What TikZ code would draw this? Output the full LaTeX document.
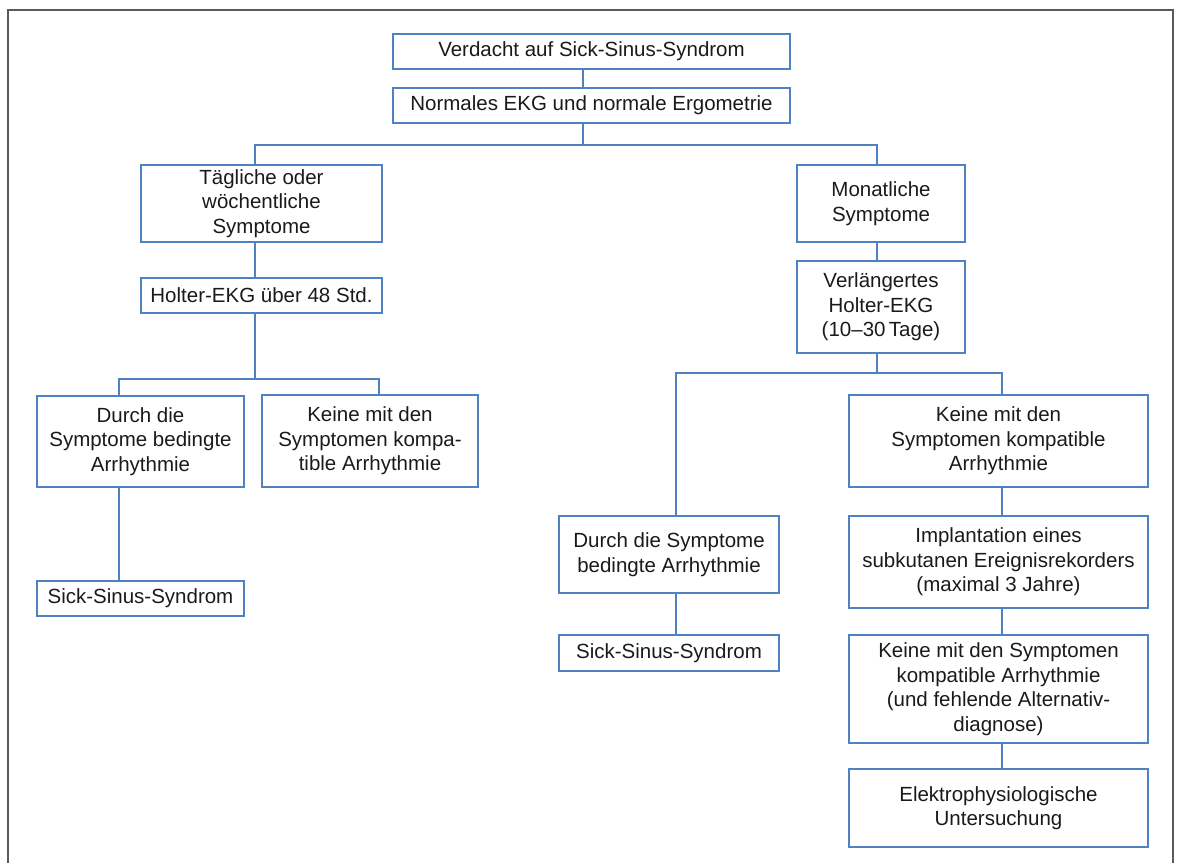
\documentclass[tikz,border=0pt]{standalone}
\usepackage{fontspec}
\setmainfont{Liberation Sans}
\definecolor{boxblue}{HTML}{4F82C3}
\definecolor{framegray}{HTML}{5A5A5A}
\definecolor{txt}{HTML}{1A1A1A}
\tikzset{
  box/.style={draw=boxblue, line width=1.5pt, inner sep=0pt, align=center,
    font=\fontsize{20.5}{24.5}\selectfont, text=txt},
  link/.style={draw=boxblue, line width=1.5pt},
}
\begin{document}
\begin{tikzpicture}[x=1pt,y=-1pt]
\useasboundingbox (0,0) rectangle (1179,863);
\draw[framegray, line width=1.2pt] (8,863) -- (8,10) -- (1173,10) -- (1173,863);

\node[box, minimum width=397pt, minimum height=35pt] (verd) at (591.5,51.5) {Verdacht auf Sick-Sinus-Syndrom};
\node[box, minimum width=397pt, minimum height=35pt] (norm) at (591.5,105.5) {Normales EKG und normale Ergometrie};
\node[box, minimum width=241pt, minimum height=77pt] (tagl) at (261.5,203.5) {Tägliche oder\\wöchentliche\\Symptome};
\node[box, minimum width=168pt, minimum height=77pt] (mon) at (881,203.5) {Monatliche\\Symptome};
\node[box, minimum width=241pt, minimum height=35pt] (holt) at (261.5,295.5) {Holter-EKG über 48 Std.};
\node[box, minimum width=168pt, minimum height=92pt] (verl) at (881,307) {Verlängertes\\Holter-EKG\\(10–30\,Tage)};
\node[box, minimum width=207pt, minimum height=91pt] (durchL) at (140.5,441.5) {Durch die\\Symptome bedingte\\Arrhythmie};
\node[box, minimum width=216pt, minimum height=92pt] (keineL) at (370,441) {Keine mit den\\Symptomen kompa-\\tible Arrhythmie};
\node[box, minimum width=207pt, minimum height=35pt] (sssL) at (140.5,598.5) {Sick-Sinus-Syndrom};
\node[box, minimum width=220pt, minimum height=77pt] (durchR) at (669,554.5) {Durch die Symptome\\bedingte Arrhythmie};
\node[box, minimum width=299pt, minimum height=92pt] (keineR) at (998.5,441) {Keine mit den\\Symptomen kompatible\\Arrhythmie};
\node[box, minimum width=299pt, minimum height=92pt] (impl) at (998.5,562) {Implantation eines\\subkutanen Ereignisrekorders\\(maximal 3 Jahre)};
\node[box, minimum width=220pt, minimum height=36pt] (sssR) at (669,653) {Sick-Sinus-Syndrom};
\node[box, minimum width=299pt, minimum height=108pt] (keineB) at (998.5,689) {Keine mit den Symptomen\\kompatible Arrhythmie\\(und fehlende Alternativ-\\diagnose)};
\node[box, minimum width=299pt, minimum height=78pt] (elek) at (998.5,808) {Elektrophysiologische\\Untersuchung};

\coordinate (b1) at (0,145);
\coordinate (b2) at (0,379);
\coordinate (b3) at (0,373);

\draw[link] ([xshift=-8.5pt]verd.south) -- ([xshift=-8.5pt]norm.north);
\draw[link] ([xshift=-8.5pt]norm.south) -- ([xshift=-8.5pt]norm.south |- b1);
\draw[link] ([xshift=-6.5pt]tagl.north) -- ([xshift=-6.5pt]tagl.north |- b1) -- ([xshift=-4pt]mon.north |- b1) -- ([xshift=-4pt]mon.north);
\draw[link] ([xshift=-6.5pt]tagl.south) -- ([xshift=-6.5pt]holt.north);
\draw[link] ([xshift=-6.5pt]holt.south) -- ([xshift=-6.5pt]holt.south |- b2);
\draw[link] ([xshift=-21.5pt]durchL.north) -- ([xshift=-21.5pt]durchL.north |- b2) -- ([xshift=9pt]keineL.north |- b2) -- ([xshift=9pt]keineL.north);
\draw[link] ([xshift=-21.5pt]durchL.south) -- ([xshift=-21.5pt]sssL.north);
\draw[link] ([xshift=-4pt]mon.south) -- ([xshift=-4pt]verl.north);
\draw[link] ([xshift=-4pt]verl.south) -- ([xshift=-4pt]verl.south |- b3);
\draw[link] ([xshift=7pt]durchR.north) -- ([xshift=7pt]durchR.north |- b3) -- ([xshift=3.5pt]keineR.north |- b3) -- ([xshift=3.5pt]keineR.north);
\draw[link] ([xshift=7pt]durchR.south) -- ([xshift=7pt]sssR.north);
\draw[link] ([xshift=3.5pt]keineR.south) -- ([xshift=3.5pt]impl.north);
\draw[link] ([xshift=3.5pt]impl.south) -- ([xshift=3.5pt]keineB.north);
\draw[link] ([xshift=3.5pt]keineB.south) -- ([xshift=3.5pt]elek.north);
\end{tikzpicture}
\end{document}
